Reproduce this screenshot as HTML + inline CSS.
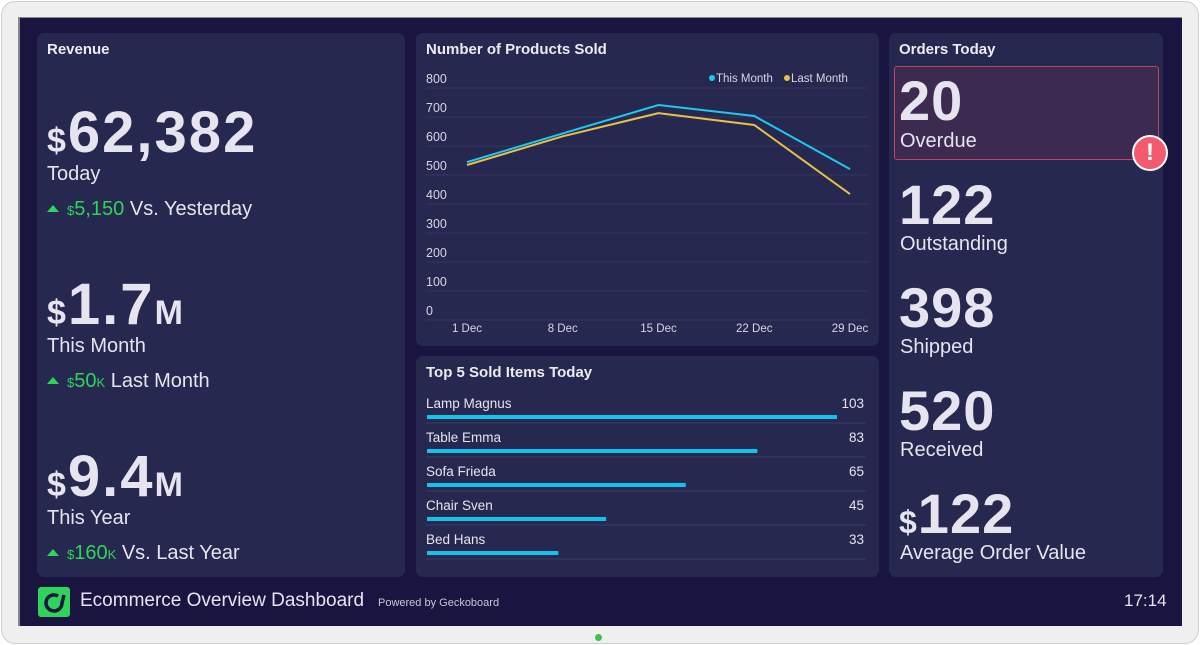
<!DOCTYPE html>
<html><head><meta charset="utf-8">
<style>
*{margin:0;padding:0;box-sizing:border-box}
body{width:1200px;height:645px;background:#fff;font-family:"Liberation Sans",sans-serif;position:relative;overflow:hidden}
.frame{position:absolute;left:1px;top:1px;width:1198px;height:643px;background:#efefef;border:1px solid #cfcfcf;border-radius:14px}
.screen{position:absolute;left:18px;top:17px;width:1164px;height:609px;background:#1a1540;border-left:2px solid #888;border-top:1px solid #888}
.panel{position:absolute;background:#27284f;border-radius:7px;color:#e8e8f0}
.title{position:absolute;left:10px;top:8px;font-size:15px;font-weight:bold;color:#eceaf2}
.abs{position:absolute;white-space:nowrap}
.big{font-weight:bold;color:#e6e4ee}
.lbl{font-size:20px;color:#e6e4ee}
.grn{color:#2fd35a;font-size:20px}
.tri{display:inline-block;width:0;height:0;border-left:6px solid transparent;border-right:6px solid transparent;border-bottom:7px solid #2fd35a;margin-right:8px;vertical-align:3px}
</style></head><body>
<div class="frame"></div>
<div class="screen"></div>

<div class="panel" style="left:37px;top:33px;width:368px;height:544px">
 <div class="title">Revenue</div>
 <div class="abs big" style="left:10px;top:66px;font-size:58px;letter-spacing:2px"><span style="font-size:34px">$</span>62,382</div>
 <div class="abs lbl" style="left:10px;top:130px">Today</div>
 <div class="abs lbl" style="left:10px;top:165px"><span class="tri"></span><span class="grn"><span style="font-size:13px">$</span>5,150</span> Vs. Yesterday</div>
 <div class="abs big" style="left:10px;top:238px;font-size:58px;letter-spacing:2px"><span style="font-size:34px">$</span>1.7<span style="font-size:34px">M</span></div>
 <div class="abs lbl" style="left:10px;top:302px">This Month</div>
 <div class="abs lbl" style="left:10px;top:337px"><span class="tri"></span><span class="grn"><span style="font-size:13px">$</span>50<span style="font-size:13px">K</span></span> Last Month</div>
 <div class="abs big" style="left:10px;top:410px;font-size:58px;letter-spacing:2px"><span style="font-size:34px">$</span>9.4<span style="font-size:34px">M</span></div>
 <div class="abs lbl" style="left:10px;top:474px">This Year</div>
 <div class="abs lbl" style="left:10px;top:509px"><span class="tri"></span><span class="grn"><span style="font-size:13px">$</span>160<span style="font-size:13px">K</span></span> Vs. Last Year</div>
</div>

<div class="panel" style="left:416px;top:33px;width:463px;height:313px">
 <div class="title">Number of Products Sold</div>
 <svg id="chart" width="463" height="313" style="position:absolute;left:0;top:0"></svg>
</div>

<div class="panel" style="left:416px;top:356px;width:463px;height:221px">
 <div class="title">Top 5 Sold Items Today</div>
 <svg id="bars" width="463" height="221" style="position:absolute;left:0;top:0"></svg>
</div>

<div class="panel" style="left:889px;top:33px;width:274px;height:544px">
 <div class="title">Orders Today</div>
 <div class="abs" style="left:5px;top:33px;width:265px;height:94px;background:#3d2a50;border:1px solid #b8475f;border-radius:3px"></div>
 <div class="abs big" style="left:10px;top:35px;font-size:56px;letter-spacing:1px">20</div>
 <div class="abs lbl" style="left:11px;top:97px">Overdue</div>
 <div class="abs" style="left:243px;top:102px;width:36px;height:36px;border-radius:50%;background:#f25a6e;border:2px solid #fff;color:#fff;font-weight:bold;font-size:24px;text-align:center;line-height:32px">!</div>
 <div class="abs big" style="left:10px;top:139px;font-size:56px;letter-spacing:1px">122</div>
 <div class="abs lbl" style="left:11px;top:200px">Outstanding</div>
 <div class="abs big" style="left:10px;top:242px;font-size:56px;letter-spacing:1px">398</div>
 <div class="abs lbl" style="left:11px;top:303px">Shipped</div>
 <div class="abs big" style="left:10px;top:345px;font-size:56px;letter-spacing:1px">520</div>
 <div class="abs lbl" style="left:11px;top:406px">Received</div>
 <div class="abs big" style="left:10px;top:448px;font-size:56px;letter-spacing:1px"><span style="font-size:32px">$</span>122</div>
 <div class="abs lbl" style="left:11px;top:509px">Average Order Value</div>
</div>

<div class="abs" style="left:38px;top:587px;width:32px;height:30px;background:#2fd35a;border-radius:3px">
 <svg width="32" height="30"><path d="M20 9 A8 8 0 1 0 24 16 L26 8" fill="none" stroke="#1a1540" stroke-width="3.5"/></svg>
</div>
<div class="abs" style="left:80px;top:590px;font-size:19px;color:#e6e4ee">Ecommerce Overview Dashboard</div>
<div class="abs" style="left:378px;top:597px;font-size:11px;color:#c8c6d4">Powered by Geckoboard</div>
<div class="abs" style="left:1124px;top:591px;font-size:17px;color:#e6e4ee">17:14</div>
<div class="abs" style="left:595px;top:634px;width:7px;height:7px;border-radius:50%;background:#3fc24a"></div>

<script>
const categories=["1 Dec","8 Dec","15 Dec","22 Dec","29 Dec"];
const thisMonth=[541,640,738,700,517];
const lastMonth=[531,630,710,669,431];
const yTicks=[0,100,200,300,400,500,600,700,800];
const items=["Lamp Magnus","Table Emma","Sofa Frieda","Chair Sven","Bed Hans"];
const itemValues=[103,83,65,45,33];

const NS="http://www.w3.org/2000/svg";
function mk(p,tag,attrs){const e=document.createElementNS(NS,tag);for(const k in attrs)e.setAttribute(k,attrs[k]);p.appendChild(e);return e;}
const svg=document.getElementById('chart');
const y0=286,yScale=29/100;
const yPos=v=>y0-v*yScale;
const xL=51,xR=434;
const xPos=i=>xL+i*(xR-xL)/(categories.length-1);
yTicks.forEach(t=>{
 const l=mk(svg,'line',{x1:10,x2:452,y1:yPos(t)+1,y2:yPos(t)+1,stroke:'#34355e','stroke-width':1});
 
 
 const tx=mk(svg,'text',{x:10,y:yPos(t)-4,fill:'#d8d6e2','font-size':12.5,'font-family':'Liberation Sans'});
 tx.textContent=t;
 
 
});
categories.forEach((c,i)=>{
 const tx=mk(svg,'text',{x:xPos(i),y:299,fill:'#d8d6e2','font-size':11.5,'text-anchor':'middle','font-family':'Liberation Sans'});
 tx.textContent=c;
 
 
});
function series(vals,color,name){
 const p=mk(svg,'polyline',{points:vals.map((v,i)=>xPos(i)+','+yPos(v)).join(' '),fill:'none',stroke:color,'stroke-width':2});
 
 
}
series(lastMonth,'#e8c14a','last-month-line');
series(thisMonth,'#1ec8f0','this-month-line');
[[296,'#1ec8f0','This Month','legend-this-month'],[371,'#e8c14a','Last Month','legend-last-month']].forEach(([x,c,t,n])=>{
 const g=mk(svg,'g',{});
 
 
 mk(g,'circle',{cx:x,cy:45,r:3,fill:c});
 const tx=mk(g,'text',{x:x+4,y:49,fill:'#d8d6e2','font-size':11.5,'font-family':'Liberation Sans'});
 tx.textContent=t;
});
const bs=document.getElementById('bars');
const maxV=103,barW=410;
items.forEach((it,i)=>{
 const yy=52+i*34;
 const n=mk(bs,'text',{x:10,y:yy,fill:'#e6e4ee','font-size':13.5,'font-family':'Liberation Sans'});
 n.textContent=it;
 
 
 const v=mk(bs,'text',{x:448,y:yy,fill:'#e6e4ee','font-size':13.5,'text-anchor':'end','font-family':'Liberation Sans'});
 v.textContent=itemValues[i];
 
 
 const ln=mk(bs,'line',{x1:10,x2:450,y1:yy+15,y2:yy+15,stroke:'#3a3b66','stroke-width':1});
 
 
 const r=mk(bs,'rect',{x:11,y:yy+7,width:itemValues[i]/maxV*barW,height:4,fill:'#12c3ee'});
 
 
});
</script>
</body></html>
